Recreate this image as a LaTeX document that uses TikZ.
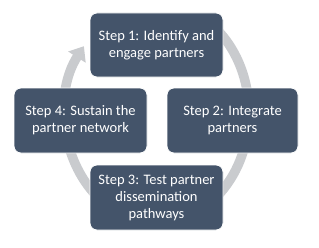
\documentclass[tikz,border=0pt]{standalone}
\usepackage{fontspec}
\setmainfont{Carlito}
\usetikzlibrary{arrows.meta,calc}
\definecolor{boxfill}{RGB}{68,84,106}
\definecolor{ringgrey}{RGB}{201,203,206}
\tikzset{
  stepbox/.style={draw=white, line width=0.8pt, fill=boxfill, rounded corners=7pt,
    minimum width=133pt, minimum height=64pt, inner sep=0pt, text=white,
    align=center, font=\fontsize{14.5pt}{17pt}\selectfont},
  ring/.style={draw=ringgrey, line width=9.5pt,
    -{Triangle[width=20pt,length=13pt]}}
}
\begin{document}
\begin{tikzpicture}[x=1pt,y=1pt]
\useasboundingbox (0,0) rectangle (319,247);
\coordinate (c) at (157,134);
\draw[ring] ($(c)+(50:92 and 110)$) arc[start angle=50, end angle=-217.4, x radius=92, y radius=110];
\node[stepbox] (s1) at (156.5,202) {Step 1: Identify and\\engage partners};
\node[stepbox, minimum width=131pt, minimum height=65pt] (s2) at (232.5,126.5) {Step 2: Integrate\\partners};
\node[stepbox, minimum height=65pt] (s4) at (80.5,126.5) {Step 4: Sustain the\\partner network};
\node[stepbox, minimum height=65pt] (s3) at (156.5,49.5) {Step 3: Test partner\\dissemination\\pathways};
\end{tikzpicture}
\end{document}
